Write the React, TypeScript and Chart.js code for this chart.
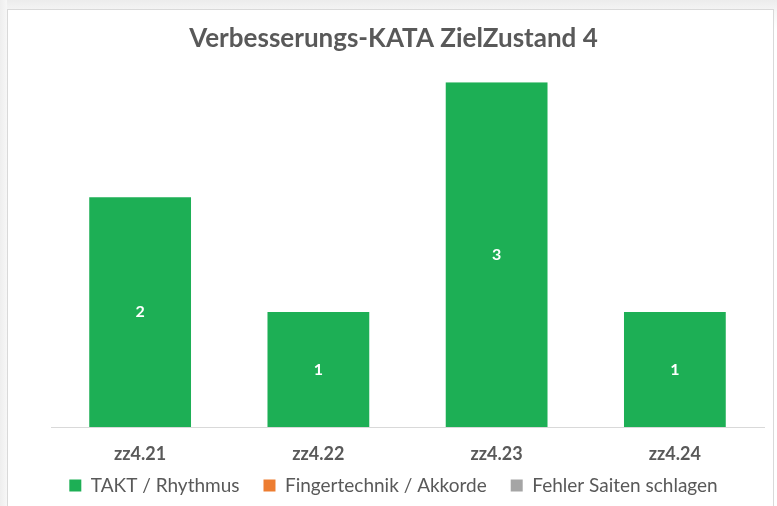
import React, { useEffect, useRef } from "react";
import { Chart, registerables } from "chart.js";

Chart.register(...registerables);

const titleText = "Verbesserungs-KATA ZielZustand 4";
const categories = ["zz4.21", "zz4.22", "zz4.23", "zz4.24"];
const seriesNames = ["TAKT / Rhythmus", "Fingertechnik / Akkorde", "Fehler Saiten schlagen"];
const taktValues = [2, 1, 3, 1];
const fingerValues = [0, 0, 0, 0];
const fehlerValues = [0, 0, 0, 0];
const seriesColors = ["#1DAF55", "#ED7D31", "#A5A5A5"];

const FONT = "Lato, Carlito, 'Open Sans', sans-serif";

const barLabels = {
  id: "barLabels",
  afterDatasetsDraw(chart: any) {
    const ctx = chart.ctx;
    chart.data.datasets.forEach((ds: any, i: number) => {
      const meta = chart.getDatasetMeta(i);
      if (meta.hidden) return;
      meta.data.forEach((el: any, j: number) => {
        const v = ds.data[j];
        if (!v) return;
        const { x, y, base } = el.getProps(["x", "y", "base"], true);
        ctx.save();
        ctx.fillStyle = "#ffffff";
        ctx.font = `bold 16px ${FONT}`;
        ctx.textAlign = "center";
        ctx.textBaseline = "middle";
        ctx.fillText(String(v), x, (y + base) / 2);
        ctx.restore();
      });
    });
  },
};

// Category tick labels drawn through the x scale's own tick positions
const categoryTicks = {
  id: "categoryTicks",
  afterDraw(chart: any) {
    const ctx = chart.ctx;
    const scale = chart.scales.x;
    const labels = chart.data.labels as string[];
    ctx.save();
    ctx.fillStyle = "#595959";
    ctx.font = `bold 18px ${FONT}`;
    ctx.textAlign = "center";
    ctx.textBaseline = "middle";
    labels.forEach((lab, i) => {
      ctx.fillText(lab, scale.getPixelForTick(i), scale.top + 27);
    });
    ctx.restore();
  },
};

export default function App() {
  const ref = useRef<HTMLCanvasElement | null>(null);
  useEffect(() => {
    if (!ref.current) return;
    const chart = new Chart(ref.current, {
      type: "bar",
      data: {
        labels: categories,
        datasets: [
          { label: seriesNames[0], data: taktValues, backgroundColor: seriesColors[0] },
          { label: seriesNames[1], data: fingerValues, backgroundColor: seriesColors[1] },
          { label: seriesNames[2], data: fehlerValues, backgroundColor: seriesColors[2] },
        ],
      },
      options: {
        animation: false,
        responsive: true,
        maintainAspectRatio: false,
        datasets: { bar: { categoryPercentage: 0.571, barPercentage: 1 } },
        layout: { padding: { left: 23, right: 13, top: 0, bottom: 1 } },
        scales: {
          x: {
            stacked: true,
            grid: { display: false, drawTicks: false },
            border: { display: true, color: "#D9D9D9", width: 1 },
            ticks: { display: false },
            afterFit: (scale: any) => {
              scale.height = 25;
            },
          },
          y: {
            stacked: true,
            display: true,
            min: 0,
            max: 3,
            grid: { display: false, drawTicks: false },
            border: { display: false },
            ticks: { display: false },
            afterFit: (scale: any) => {
              scale.width = 28;
            },
          },
        },
        plugins: {
          title: {
            display: true,
            text: titleText,
            color: "#595959",
            font: { family: FONT, size: 26, weight: "bold" },
            padding: { top: 23, bottom: 28 },
          },
          legend: {
            position: "bottom",
            labels: {
              boxWidth: 12,
              boxHeight: 12,
              padding: 24,
              color: "#595959",
              font: { family: FONT, size: 19 },
            },
          },
          tooltip: { enabled: false },
        },
      },
      plugins: [barLabels, categoryTicks],
    });
    if ((document as any).fonts && (document as any).fonts.load) {
      Promise.all([
        (document as any).fonts.load(`bold 16px Lato`),
        (document as any).fonts.load(`16px Lato`),
      ]).then(() => chart.update()).catch(() => {});
    }
    return () => chart.destroy();
  }, []);

  return (
    <div style={{ position: "fixed", left: 0, top: 0, width: 777, height: 506, overflow: "hidden", background: "linear-gradient(180deg, #ececec 0px, #f6f6f6 12px, #ffffff 30px)" }}>
      <div style={{ position: "absolute", left: 0, top: 0, width: 7, height: 506, background: "linear-gradient(90deg, #eeeeee, #f7f7f7)" }} />
      <div style={{ position: "absolute", left: 7, top: 9, width: 767, height: 510, background: "#ffffff", border: "1px solid #D9D9D9", boxSizing: "border-box" }} />
      <div style={{ position: "absolute", left: 0, top: 0, width: 777, height: 506 }}>
        <canvas ref={ref} />
      </div>
    </div>
  );
}
